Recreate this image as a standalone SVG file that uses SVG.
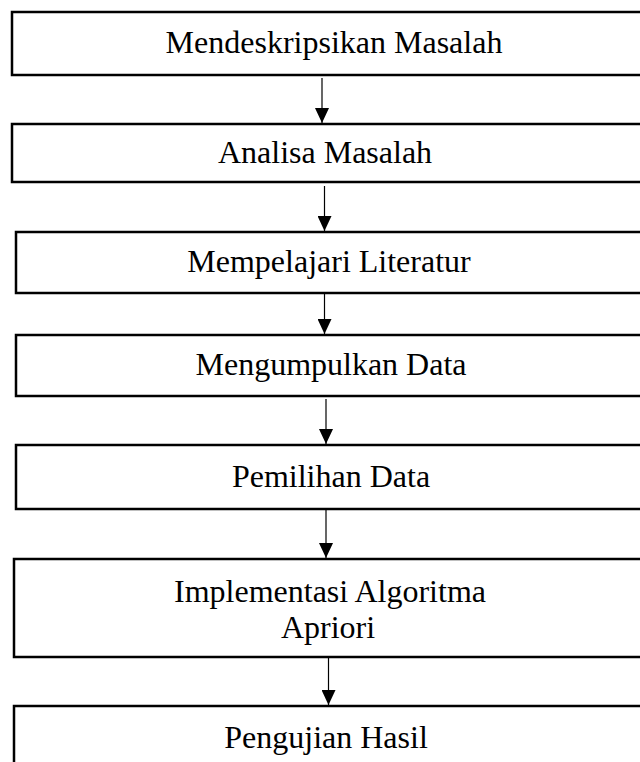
<svg xmlns="http://www.w3.org/2000/svg" width="640" height="762" viewBox="0 0 640 762">
<style>
.box{fill:#fff;stroke:#000;stroke-width:2.5}
.lbl{font-family:"Liberation Serif","Times New Roman",serif;font-size:32px;fill:#000;text-anchor:middle}
.conn{stroke:#000;stroke-width:1.2;fill:none;marker-end:url(#ah)}
</style>
<defs>
<marker id="ah" viewBox="0 0 15 14" refX="15" refY="7" markerWidth="15" markerHeight="14" markerUnits="userSpaceOnUse" orient="auto">
<path d="M0,0 L15,7 L0,14 z" fill="#000"/>
</marker>
</defs>
<rect width="640" height="762" fill="#fff"/>
<g id="n1"><rect class="box" x="12" y="12" width="640" height="63"/><text class="lbl" x="334" y="53">Mendeskripsikan Masalah</text></g>
<g id="n2"><rect class="box" x="12" y="124" width="640" height="58"/><text class="lbl" x="325" y="163">Analisa Masalah</text></g>
<g id="n3"><rect class="box" x="16" y="232" width="640" height="61"/><text class="lbl" x="329" y="272">Mempelajari Literatur</text></g>
<g id="n4"><rect class="box" x="16" y="335" width="640" height="61"/><text class="lbl" x="331" y="375">Mengumpulkan Data</text></g>
<g id="n5"><rect class="box" x="16" y="445" width="640" height="64"/><text class="lbl" x="331" y="487">Pemilihan Data</text></g>
<g id="n6"><rect class="box" x="14" y="559" width="640" height="98"/><text class="lbl" x="330" y="602">Implementasi Algoritma</text><text class="lbl" x="328" y="638">Apriori</text></g>
<g id="n7"><rect class="box" x="14" y="706" width="640" height="70"/><text class="lbl" x="326" y="748">Pengujian Hasil</text></g>
<g id="connectors">
<line class="conn" x1="322" y1="78" x2="322" y2="123"/>
<line class="conn" x1="324.5" y1="186" x2="324.5" y2="231"/>
<line class="conn" x1="324.5" y1="294" x2="324.5" y2="334"/>
<line class="conn" x1="326" y1="399" x2="326" y2="444"/>
<line class="conn" x1="326" y1="510" x2="326" y2="558"/>
<line class="conn" x1="328.5" y1="658" x2="328.5" y2="705"/>
</g>
</svg>
